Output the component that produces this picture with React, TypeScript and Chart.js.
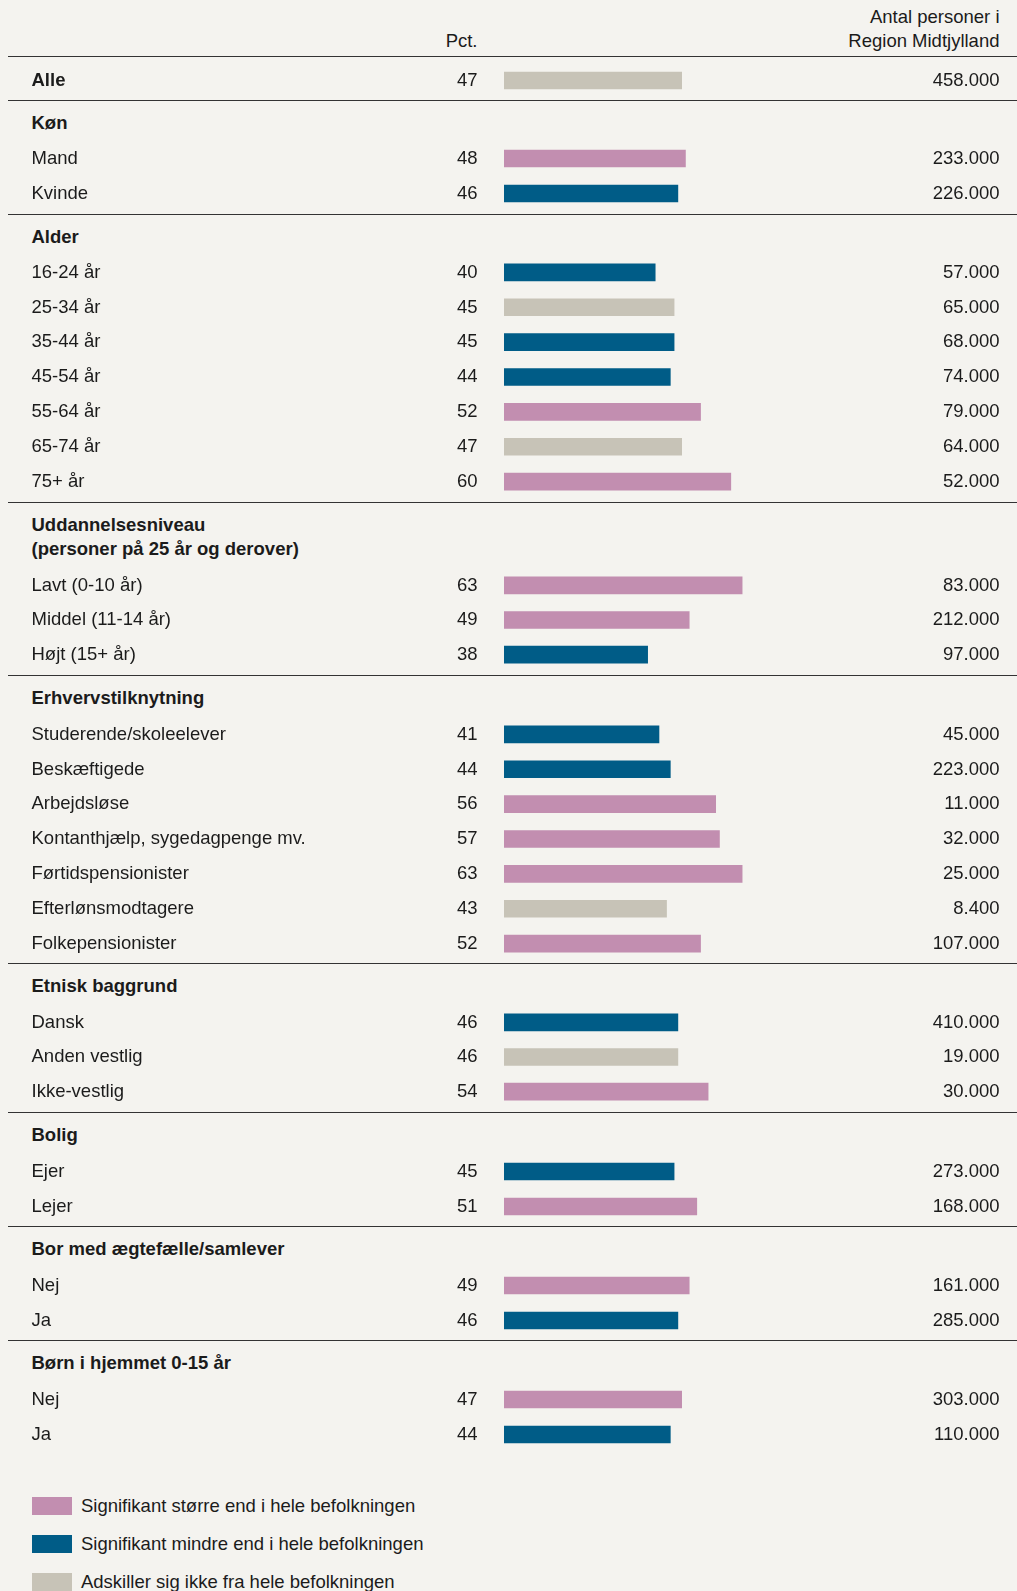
import React, { useEffect, useRef } from "react";
import { Chart, registerables } from "chart.js";

Chart.register(...registerables);

const FONT = '"Liberation Sans", Arial, sans-serif';
const FS = 18.5;
const TEXT = "#1b1b1b";
const BG = "#f4f3ef";
const COLORS: Record<string, string> = {
  up: "#c28eb0",
  down: "#005c87",
  same: "#c7c3b7",
};

// ---- data ----
const groupHeaders: (string[] | null)[] = [
  null,
  ["Køn"],
  ["Alder"],
  ["Uddannelsesniveau", "(personer på 25 år og derover)"],
  ["Erhvervstilknytning"],
  ["Etnisk baggrund"],
  ["Bolig"],
  ["Bor med ægtefælle/samlever"],
  ["Børn i hjemmet 0-15 år"],
];

const allLabels = ["Alle"];
const allPct = [47];
const allCount = ["458.000"];
const allSig = ["same"];

const konLabels = ["Mand", "Kvinde"];
const konPct = [48, 46];
const konCount = ["233.000", "226.000"];
const konSig = ["up", "down"];

const alderLabels = ["16-24 år", "25-34 år", "35-44 år", "45-54 år", "55-64 år", "65-74 år", "75+ år"];
const alderPct = [40, 45, 45, 44, 52, 47, 60];
const alderCount = ["57.000", "65.000", "68.000", "74.000", "79.000", "64.000", "52.000"];
const alderSig = ["down", "same", "down", "down", "up", "same", "up"];

const uddLabels = ["Lavt (0-10 år)", "Middel (11-14 år)", "Højt (15+ år)"];
const uddPct = [63, 49, 38];
const uddCount = ["83.000", "212.000", "97.000"];
const uddSig = ["up", "up", "down"];

const erhLabels = [
  "Studerende/skoleelever",
  "Beskæftigede",
  "Arbejdsløse",
  "Kontanthjælp, sygedagpenge mv.",
  "Førtidspensionister",
  "Efterlønsmodtagere",
  "Folkepensionister",
];
const erhPct = [41, 44, 56, 57, 63, 43, 52];
const erhCount = ["45.000", "223.000", "11.000", "32.000", "25.000", "8.400", "107.000"];
const erhSig = ["down", "down", "up", "up", "up", "same", "up"];

const etnLabels = ["Dansk", "Anden vestlig", "Ikke-vestlig"];
const etnPct = [46, 46, 54];
const etnCount = ["410.000", "19.000", "30.000"];
const etnSig = ["down", "same", "up"];

const boligLabels = ["Ejer", "Lejer"];
const boligPct = [45, 51];
const boligCount = ["273.000", "168.000"];
const boligSig = ["down", "up"];

const samLabels = ["Nej", "Ja"];
const samPct = [49, 46];
const samCount = ["161.000", "285.000"];
const samSig = ["up", "down"];

const bornLabels = ["Nej", "Ja"];
const bornPct = [47, 44];
const bornCount = ["303.000", "110.000"];
const bornSig = ["up", "down"];

const legendLabels = [
  "Signifikant større end i hele befolkningen",
  "Signifikant mindre end i hele befolkningen",
  "Adskiller sig ikke fra hele befolkningen",
];
const legendKeys = ["up", "down", "same"];

const groups = [
  { labels: allLabels, pct: allPct, count: allCount, sig: allSig },
  { labels: konLabels, pct: konPct, count: konCount, sig: konSig },
  { labels: alderLabels, pct: alderPct, count: alderCount, sig: alderSig },
  { labels: uddLabels, pct: uddPct, count: uddCount, sig: uddSig },
  { labels: erhLabels, pct: erhPct, count: erhCount, sig: erhSig },
  { labels: etnLabels, pct: etnPct, count: etnCount, sig: etnSig },
  { labels: boligLabels, pct: boligPct, count: boligCount, sig: boligSig },
  { labels: samLabels, pct: samPct, count: samCount, sig: samSig },
  { labels: bornLabels, pct: bornPct, count: bornCount, sig: bornSig },
];

const ROW = 34.8;
const W = 1017;

function RowChart({ labels, pct, count, sig }: { labels: string[]; pct: number[]; count: string[]; sig: string[] }) {
  const ref = useRef<HTMLCanvasElement | null>(null);
  const h = Math.round(labels.length * ROW);
  useEffect(() => {
    if (!ref.current) return;
    const textPlugin = {
      id: "rowText",
      afterDatasetsDraw(chart: any) {
        const ctx = chart.ctx;
        const meta = chart.getDatasetMeta(0);
        ctx.save();
        ctx.fillStyle = TEXT;
        ctx.font = `${FS}px ${FONT}`;
        ctx.textBaseline = "alphabetic";
        meta.data.forEach((bar: any, i: number) => {
          const y = bar.y + 5.3;
          ctx.textAlign = "left";
          ctx.font = labels[i] === "Alle" ? `bold ${FS}px ${FONT}` : `${FS}px ${FONT}`;
          ctx.fillText(String(chart.data.labels[i]), 31.5, y);
          ctx.font = `${FS}px ${FONT}`;
          ctx.textAlign = "right";
          ctx.fillText(String(pct[i]), 477.5, y);
          ctx.fillText(count[i], 999.5, y);
        });
        ctx.restore();
      },
    };
    const chart = new Chart(ref.current, {
      type: "bar",
      data: {
        labels,
        datasets: [
          {
            data: pct,
            backgroundColor: sig.map((s) => COLORS[s]),
            borderWidth: 0,
            barThickness: 17,
          },
        ],
      },
      options: {
        indexAxis: "y",
        animation: false,
        responsive: false,
        maintainAspectRatio: false,
        layout: { padding: { left: 504, right: W - 504 - 378, top: 0, bottom: 0 } },
        scales: {
          x: { min: 0, max: 100, display: false },
          y: { display: false },
        },
        plugins: { legend: { display: false }, tooltip: { enabled: false } },
      },
      plugins: [textPlugin],
    } as any);
    return () => chart.destroy();
  }, []);
  return <canvas ref={ref} width={W} height={h} style={{ display: "block", width: W, height: h }} />;
}

const lineStyle: React.CSSProperties = { marginLeft: 8, height: 0, borderTop: "1px solid #333" };

export default function App() {
  useEffect(() => {
    document.body.style.margin = "0";
    document.body.style.background = BG;
  }, []);
  const textBase: React.CSSProperties = { fontFamily: FONT, fontSize: FS, color: TEXT };
  return (
    <div style={{ position: "relative", width: W, height: 1591, background: BG, overflow: "hidden", ...textBase }}>
      {/* header */}
      <div style={{ position: "relative", height: 55.5 }}>
        <div style={{ position: "absolute", right: 17.5, top: 4.5, lineHeight: "24px", textAlign: "right" }}>
          Antal personer i<br />Region Midtjylland
        </div>
        <div style={{ position: "absolute", right: W - 477.5, top: 28.5, lineHeight: "24px", textAlign: "right" }}>Pct.</div>
      </div>
      <div style={lineStyle} />
      {/* Alle */}
      <div style={{ paddingTop: 6, paddingBottom: 2 }}>
        <RowChart {...groups[0]} />
      </div>
      {groups.slice(1).map((g, k) => {
        const hdr = groupHeaders[k + 1] as string[];
        const n = g.labels.length;
        const hdrH = hdr.length > 1 ? 65 : 40.85;
        const total = hdr.length > 1 ? 173 : 44.5 + n * ROW;
        const pb = total - 1 - hdrH - Math.round(n * ROW);
        return (
          <div key={k}>
            <div style={lineStyle} />
            <div style={{ height: hdrH, boxSizing: "border-box", paddingTop: 10.1, lineHeight: "24.4px", paddingLeft: 31.5, fontWeight: "bold" }}>
              {hdr.map((t, j) => (
                <div key={j}>{t}</div>
              ))}
            </div>
            <RowChart {...g} />
            <div style={{ height: k === groups.length - 2 ? 0 : pb }} />
          </div>
        );
      })}
      {/* legend */}
      {legendLabels.map((t, i) => (
        <div key={i} style={{ position: "absolute", left: 31.7, top: 1496.7 + i * 38, height: 18, display: "flex", alignItems: "center" }}>
          <div style={{ width: 40, height: 18, background: COLORS[legendKeys[i]] }} />
          <div style={{ marginLeft: 9.3, lineHeight: "18px", whiteSpace: "nowrap" }}>{t}</div>
        </div>
      ))}
    </div>
  );
}
